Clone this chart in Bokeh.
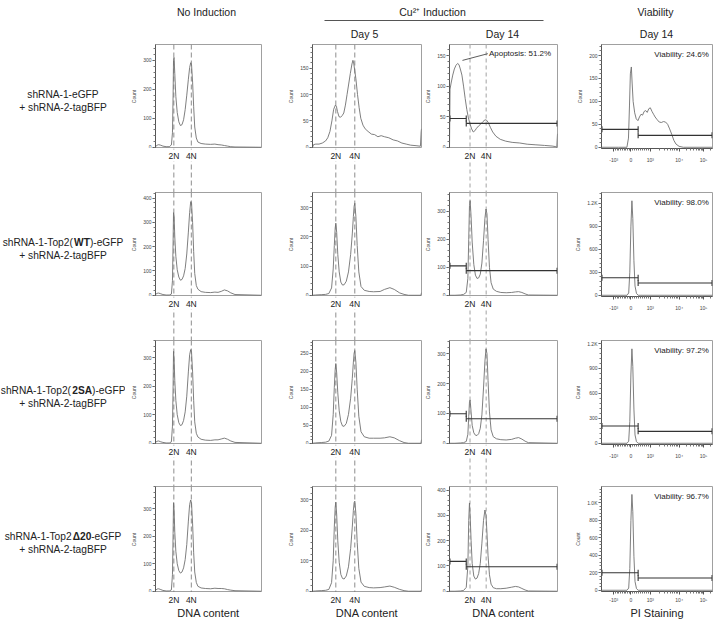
import numpy as np
from bokeh.plotting import figure
from bokeh.layouts import row, column
from bokeh.models import Range1d, Span, SingleIntervalTicker, FixedTicker
from bokeh.embed import file_html
from bokeh.resources import INLINE
from bokeh.core.properties import value

FONT = "Liberation Sans"

# ---------------- data ----------------
HEADER_GROUPS = ["No Induction", "Cu²⁺ Induction", "Viability"]
HEADER_DAYS = ["Day 5", "Day 14", "Day 14"]
ROW_PRE = ["shRNA-1-eGFP", "shRNA-1-Top2(", "shRNA-1-Top2(", "shRNA-1-Top2"]
ROW_BOLD = ["", "WT", "2SA", "Δ20"]
ROW_POST = ["", ")-eGFP", ")-eGFP", "-eGFP"]
ROW_LINE2 = "+ shRNA-2-tagBFP"

PLOIDY_LABELS = ["2N", "4N"]
NOIND_PLOIDY = [17.3, 33.8]
DAY5_PLOIDY = [21.4, 38.8]
DAY14_PLOIDY = [19.0, 34.0]

# No induction (DNA content, channel 0-100)
NOIND_X = [0, 1.5, 3, 5, 7, 10, 13, 15, 16, 16.6, 17.0, 17.5, 18.2, 19.2, 20.5, 22, 23.5, 25, 26.5, 28,
           29.5, 31, 32.2, 33.2, 34.0, 35.0, 36.0, 37.0, 38.5, 40, 43, 47, 52, 56, 59, 62, 65, 68, 71, 75, 100]
NOIND_R1_Y = [2, 7, 9, 7, 4, 2, 2, 8, 50, 180, 300, 310, 255, 175, 120, 88, 75, 78, 95, 130,
              180, 235, 275, 292, 285, 225, 140, 70, 32, 18, 13, 11, 10, 11, 9, 8, 6, 4, 2, 1, 0]
NOIND_R2_Y = [3, 8, 9, 6, 3, 1, 1, 5, 60, 220, 340, 330, 240, 160, 105, 75, 62, 65, 80, 110,
              170, 260, 340, 385, 380, 300, 180, 90, 40, 25, 15, 12, 11, 13, 12, 16, 22, 18, 10, 3, 0]
NOIND_R3_Y = [3, 7, 8, 5, 3, 1, 1, 5, 60, 200, 322, 300, 220, 150, 100, 72, 62, 65, 80, 110,
              165, 250, 310, 328, 318, 250, 150, 75, 35, 22, 14, 11, 10, 12, 12, 15, 18, 14, 8, 3, 0]
NOIND_R4_Y = [3, 8, 9, 6, 3, 1, 1, 5, 60, 210, 322, 300, 215, 145, 100, 75, 66, 70, 85, 115,
              170, 255, 315, 332, 320, 245, 140, 70, 32, 18, 12, 10, 9, 11, 10, 10, 9, 6, 4, 2, 0]
NOIND_YMAX = [355, 423, 360, 381]
NOIND_YSTEP = [100, 100, 100, 100]

# Cu2+ Day 5
DAY5_R1_X = [0, 1, 3, 6, 9, 12, 14, 16, 17.8, 19.4, 21.0, 21.9, 22.9, 24.3, 25.8, 27.2, 28.7, 30.2, 31.7, 33.2,
             34.7, 36.2, 37.1, 37.8, 38.8, 39.8, 41.3, 42.8, 44.3, 46.3, 48.3, 51, 54, 57, 60, 63, 66, 70, 74, 78,
             82, 86, 90, 95, 99, 99.7, 100]
DAY5_R1_Y = [0, 5, 6, 6, 8, 12, 18, 30, 50, 72, 80, 78, 68, 58, 57, 60, 65, 80, 100, 120,
             140, 158, 165, 160, 145, 130, 100, 75, 55, 42, 35, 30, 25, 24, 20, 22, 20, 18, 14, 12,
             8, 6, 4, 3, 2, 30, 35]
DAY5_X = [0, 3, 8, 12, 15, 17.5, 19, 20, 20.8, 21.4, 22.2, 23.2, 24.5, 26, 27.5, 29, 31, 33, 35, 36.5,
          37.5, 38.2, 38.8, 39.8, 41, 42.5, 44.5, 47.5, 52, 56, 62, 66, 71, 75, 80, 84, 88, 94, 99.5, 100]
DAY5_R2_Y = [0, 1, 2, 3, 6, 25, 90, 170, 230, 247, 215, 140, 80, 45, 35, 36, 48, 80, 140, 210,
             270, 305, 315, 270, 170, 80, 30, 17, 13, 12, 13, 20, 26, 20, 8, 3, 0, 0, 0, 9]
DAY5_R3_Y = [0, 1, 2, 3, 6, 22, 80, 155, 205, 221, 195, 140, 90, 60, 48, 47, 55, 80, 125, 180,
             225, 250, 257, 225, 150, 75, 32, 18, 14, 14, 14, 15, 18, 15, 7, 2, 0, 0, 0, 10]
DAY5_R4_Y = [0, 1, 2, 3, 6, 28, 100, 210, 275, 292, 250, 165, 95, 55, 42, 40, 50, 80, 140, 210,
             265, 290, 295, 255, 160, 75, 30, 16, 12, 11, 12, 14, 17, 13, 6, 2, 0, 0, 0, 4]
DAY5_YMAX = [195, 352, 285, 343]
DAY5_YSTEP = [50, 100, 50, 100]

# Cu2+ Day 14
DAY14_R1_X = [0, 0.5, 1.5, 3, 4.5, 6, 7.5, 8.8, 10, 11.5, 13, 14.5, 16, 17.5, 19, 20.5, 22, 23.5, 25, 27,
              29, 31, 33, 34.5, 36, 38, 40, 43, 47, 52, 58, 65, 72, 80, 88, 95, 98.5, 99.3, 100]
DAY14_R1_Y = [0, 95, 105, 118, 128, 134, 137, 135, 128, 118, 100, 80, 62, 48, 38, 30, 25, 27, 31, 35,
              38, 42, 45, 44, 40, 32, 25, 18, 13, 10, 8, 7, 5, 4, 3, 2, 1, 0, 22]
DAY14_X = [0, 5, 10, 13, 15.5, 17.0, 17.8, 18.5, 19.1, 20.0, 21.0, 22.5, 24, 25.5, 27, 28.5, 30, 31.5, 32.8, 33.8,
           34.7, 35.7, 37, 38.5, 40.5, 43.5, 47.5, 52.5, 57.5, 61, 64, 67, 70, 73, 100]
DAY14_R2_Y = [0, 0, 1, 3, 10, 60, 200, 320, 338, 280, 190, 110, 72, 60, 62, 75, 115, 195, 275, 308,
              290, 200, 100, 45, 22, 14, 10, 9, 10, 12, 13, 10, 5, 1, 0]
DAY14_R3_Y = [0, 0, 1, 2, 6, 30, 90, 138, 145, 105, 60, 35, 27, 26, 32, 50, 95, 185, 275, 316,
              300, 210, 105, 45, 22, 15, 12, 11, 13, 17, 19, 14, 7, 2, 0]
DAY14_R4_Y = [0, 0, 1, 3, 15, 100, 280, 349, 300, 200, 110, 60, 48, 52, 70, 110, 190, 280, 321, 300,
              230, 140, 65, 28, 14, 10, 10, 12, 16, 19, 17, 11, 5, 1, 0]
DAY14_YMAX = [168, 367, 344, 414]
DAY14_YSTEP = [50, 100, 100, 100]
DAY14_GATE_SPLIT = 15.5
DAY14_GATE_LEFT = [47, 105, 99, 118]
DAY14_GATE_RIGHT = [39, 88, 82, 97]
APOPTOSIS_TEXT = "Apoptosis: 51.2%"
APOPTOSIS_LEADER_X = [12.0, 35.5]
APOPTOSIS_LEADER_Y = [142, 153]

# Viability (PI staining, display units 0-100)
PI_R1_X = [0, 15.4, 22.9, 24.3, 25.2, 26.0, 26.9, 27.6, 28.5, 29.9, 31.3, 32.8, 34.2, 35.6, 37.0, 38.4, 39.8,
           41.2, 42.6, 44.0, 45.5, 46.9, 48.3, 50.2, 52.0, 53.9, 55.8, 57.7, 59.6, 61.4, 63.3, 65.2, 67.1,
           69.9, 73.7, 100]
PI_R1_Y = [0, 0, 0, 20, 90, 160, 175, 140, 100, 75, 62, 58, 66, 72, 70, 78, 80, 76, 84, 86,
           78, 72, 66, 60, 55, 54, 56, 55, 50, 40, 28, 15, 7, 2, 0, 0]
PI_X = [0, 23, 24.5, 25.5, 26.5, 27.4, 28.2, 29.2, 30.2, 31.5, 33, 100]
PI_R2_Y = [0, 0, 30, 300, 900, 1230, 1000, 450, 120, 25, 0, 0]
PI_R3_Y = [0, 0, 25, 260, 830, 1132, 920, 410, 100, 20, 0, 0]
PI_R4_Y = [0, 0, 25, 250, 800, 1098, 900, 390, 100, 20, 0, 0]
PI_YMAX = [224, 1338, 1232, 1189]
PI_YSTEP = [50, 300, 300, 200]
PI_GATE_SPLIT = 33.0
PI_GATE_LEFT = [39, 229, 207, 200]
PI_GATE_RIGHT = [26, 160, 143, 140]
VIABILITY = ["Viability: 24.6%", "Viability: 98.0%", "Viability: 97.2%", "Viability: 96.7%"]
PI_TICK_VALUES = [-1000, 0, 1000, 10000, 100000]
PI_TICK_POS = [11.0, 26.5, 44.0, 70.0, 92.0]
PI_TICK_LABELS = ["-10³", "0", "10³", "10⁴", "10⁵"]

# ---------------- layout constants ----------------
HEADER_H = 44
PANEL_H = [104, 104, 104, 106]
GAP_H = [44, 44, 42, 28]
LABEL_W = 125
COLS = [(157, 30, 21), (140, 30, 1), (149, 27, 14), (142, 30, 1)]
TEXT = "#222222"
AXC = "#555555"

REG_W = {'s': .5, 'h': .556, 'R': .722, 'N': .722, 'A': .667, '-': .333, '1': .556, '2': .556,
         'T': .611, 'o': .556, 'p': .556, '(': .333, ')': .333, 'e': .556, 'G': .778, 'F': .611,
         'P': .667, '+': .584, ' ': .278, 't': .278, 'a': .556, 'g': .556, 'B': .667}
BOLD_W = {'W': .944, 'T': .611, '2': .556, 'S': .667, 'A': .722, 'Δ': .70, '0': .556}


def twidth(s, table, fs):
    return sum(table.get(c, .556) for c in s) * fs


def base_fig(w, h, xr, yr, lb=0, rb=0, tb=0, bb=0, xaxis=None, yaxis=None):
    p = figure(width=w, height=h, x_range=xr, y_range=yr, output_backend="svg",
               toolbar_location=None, x_axis_location=xaxis, y_axis_location=yaxis,
               min_border_left=lb, min_border_right=rb, min_border_top=tb, min_border_bottom=bb)
    p.grid.visible = False
    p.outline_line_color = None
    p.background_fill_color = "white"
    p.border_fill_color = "white"
    return p


def style_axis(ax, fs="5px"):
    ax.axis_label_text_font = FONT
    ax.axis_label_text_font_size = fs
    ax.axis_label_text_font_style = "normal"
    ax.axis_label_text_color = "#444444"
    ax.major_label_text_font = FONT
    ax.major_label_text_font_size = "5px"
    ax.major_label_text_color = "#444444"
    ax.major_label_standoff = 1
    ax.major_tick_out = 3
    ax.major_tick_in = 0
    ax.minor_tick_out = 2
    ax.minor_tick_in = 0
    ax.axis_line_color = AXC
    ax.major_tick_line_color = AXC
    ax.minor_tick_line_color = "#777777"


def panel(xr, ymax, step, w, lb, rb, h, bb=0, xaxis=None):
    p = base_fig(w, h, xr, Range1d(-0.012 * ymax, ymax), lb=lb, rb=rb, bb=bb, xaxis=xaxis, yaxis="left")
    p.outline_line_color = "#a0a0a0"
    ax = p.yaxis[0]
    style_axis(ax)
    ax.ticker = SingleIntervalTicker(interval=step, num_minor_ticks=5)
    ax.axis_label = "Count"
    ax.axis_label_standoff = 3
    return p


def add_lines(p, locs, light):
    for loc in locs:
        if light:
            p.add_layout(Span(location=loc, dimension="height", line_color="#bdbdbd",
                              line_width=1.4, line_dash="4 3", level="underlay"))
        else:
            p.add_layout(Span(location=loc, dimension="height", line_color="#808080",
                              line_width=0.9, line_dash="5 3", level="underlay"))


def gap(xr, w, lb, rb, h, locs, light, lines=True, xlabel=None):
    g = base_fig(w, h, xr, Range1d(h, 0), lb=lb, rb=rb)
    if lines:
        add_lines(g, locs, light)
    g.text(x=locs, y=[7, 7], text=PLOIDY_LABELS, text_align="center", text_baseline="middle",
           text_font=value(FONT), text_font_size="8.5px", text_color=TEXT,
           background_fill_color="white", padding=1)
    if xlabel:
        g.text(x=[50], y=[20.5], text=[xlabel], text_align="center", text_baseline="middle",
               text_font=value(FONT), text_font_size="11px", text_color=TEXT)
    return g


def gate(p, split, yl, yr_, xmin, xmax):
    p.segment(x0=[xmin, split], y0=[yl, yr_], x1=[split, xmax], y1=[yl, yr_], line_color="#333333", line_width=1.1)
    p.scatter(x=[xmin, split, split, xmax], y=[yl, yl, yr_, yr_], marker="dash", angle=np.pi / 2,
              size=6, line_color="#333333", line_width=1.1)


def dna_column(ci, ploidy, light, xs_list, ys_list, ymaxes, steps, extra=None):
    w, lb, rb = COLS[ci]
    xr = Range1d(0, 100)
    kids = []
    for r in range(4):
        p = panel(xr, ymaxes[r], steps[r], w, lb, rb, PANEL_H[r])
        add_lines(p, ploidy, light)
        p.line(xs_list[r], ys_list[r], line_color="#707070", line_width=0.9)
        if extra:
            extra(p, r)
        kids.append(p)
        if r < 3:
            kids.append(gap(xr, w, lb, rb, GAP_H[r], ploidy, light))
        else:
            kids.append(gap(xr, w, lb, rb, GAP_H[r], ploidy, light, lines=False, xlabel="DNA content"))
    return column(*kids)


def day14_extra(p, r):
    gate(p, DAY14_GATE_SPLIT, DAY14_GATE_LEFT[r], DAY14_GATE_RIGHT[r], 0.4, 99.6)
    if r == 0:
        p.line(APOPTOSIS_LEADER_X, APOPTOSIS_LEADER_Y, line_color="#333333", line_width=0.8)
        p.text(x=[APOPTOSIS_LEADER_X[1] + 1.0], y=[APOPTOSIS_LEADER_Y[1]], text=[APOPTOSIS_TEXT],
               text_align="left", text_baseline="middle", text_font=value(FONT),
               text_font_size="8px", text_color=TEXT)


# ---------------- header ----------------
header = base_fig(713, HEADER_H, Range1d(0, 713), Range1d(HEADER_H, 0))
header.text(x=[206, 432, 655], y=[11, 11, 11], text=HEADER_GROUPS, text_align="center",
            text_baseline="middle", text_font=value(FONT), text_font_size="10.5px", text_color=TEXT)
header.segment(x0=[324], y0=[20], x1=[543], y1=[20], line_color="#555555", line_width=1)
header.text(x=[364, 502, 656], y=[33, 33, 33], text=HEADER_DAYS, text_align="center",
            text_baseline="middle", text_font=value(FONT), text_font_size="10.5px", text_color=TEXT)

# ---------------- row labels ----------------
body_h = sum(PANEL_H) + sum(GAP_H)
top0 = HEADER_H
labels = base_fig(LABEL_W, body_h, Range1d(0, LABEL_W), Range1d(top0 + body_h, top0))
FS = 10.2
CX = 62.5
row_tops = np.cumsum([top0] + [PANEL_H[i] + GAP_H[i] for i in range(3)])
for r in range(4):
    y1 = row_tops[r] + 50
    y2 = y1 + 13
    w_pre = twidth(ROW_PRE[r], REG_W, FS)
    w_bold = twidth(ROW_BOLD[r], BOLD_W, FS)
    w_post = twidth(ROW_POST[r], REG_W, FS)
    x0 = max(CX - (w_pre + w_bold + w_post) / 2, 0.3)
    kw = dict(text_align="left", text_baseline="middle", text_font=value(FONT),
              text_font_size=f"{FS}px", text_color=TEXT)
    labels.text(x=[x0], y=[y1], text=[ROW_PRE[r]], **kw)
    if ROW_BOLD[r]:
        labels.text(x=[x0 + w_pre], y=[y1], text=[ROW_BOLD[r]], text_font_style="bold", **kw)
        labels.text(x=[x0 + w_pre + w_bold], y=[y1], text=[ROW_POST[r]], **kw)
    labels.text(x=[CX], y=[y2], text=[ROW_LINE2], text_align="center", text_baseline="middle",
                text_font=value(FONT), text_font_size=f"{FS}px", text_color=TEXT)

# ---------------- DNA columns ----------------
col1 = dna_column(0, NOIND_PLOIDY, False, [NOIND_X] * 4,
                  [NOIND_R1_Y, NOIND_R2_Y, NOIND_R3_Y, NOIND_R4_Y], NOIND_YMAX, NOIND_YSTEP)
col2 = dna_column(1, DAY5_PLOIDY, False, [DAY5_R1_X, DAY5_X, DAY5_X, DAY5_X],
                  [DAY5_R1_Y, DAY5_R2_Y, DAY5_R3_Y, DAY5_R4_Y], DAY5_YMAX, DAY5_YSTEP)
col3 = dna_column(2, DAY14_PLOIDY, True, [DAY14_R1_X, DAY14_X, DAY14_X, DAY14_X],
                  [DAY14_R1_Y, DAY14_R2_Y, DAY14_R3_Y, DAY14_R4_Y], DAY14_YMAX, DAY14_YSTEP,
                  extra=day14_extra)

# ---------------- PI column ----------------
def pi_pos(v):
    if v <= 1000:
        return float(np.interp(v, PI_TICK_VALUES[:3], PI_TICK_POS[:3]))
    k = int(np.floor(np.log10(v)))
    i = PI_TICK_VALUES.index(10 ** k)
    p0 = PI_TICK_POS[i]
    p1 = PI_TICK_POS[i + 1] if i + 1 < len(PI_TICK_POS) else p0 + (PI_TICK_POS[i] - PI_TICK_POS[i - 1])
    return p0 + np.log10(v / 10 ** k) * (p1 - p0)


minor = [pi_pos(v) for v in range(-900, 1000, 100) if v != 0]
minor += [pi_pos(m * d) for d in (1000, 10000, 100000) for m in range(2, 10)]
minor = [float(m) for m in minor if m < 100]

w4, lb4, rb4 = COLS[3]
xr4 = Range1d(0, 100)
pi_kids = []
PI_Y = [PI_R1_Y, PI_R2_Y, PI_R3_Y, PI_R4_Y]
PI_XS = [PI_R1_X, PI_X, PI_X, PI_X]
PI_LABEL_GAP = 15
for r in range(4):
    bb = GAP_H[r] if r < 3 else GAP_H[r] - PI_LABEL_GAP
    p = panel(xr4, PI_YMAX[r], PI_YSTEP[r], w4, lb4, rb4, h=PANEL_H[r] + bb, bb=bb, xaxis="below")
    ay = p.yaxis[0]
    ay.major_label_overrides = {1200: "1.2K", 1000: "1.0K"}
    ax = p.xaxis[0]
    style_axis(ax)
    ax.ticker = FixedTicker(ticks=PI_TICK_POS, minor_ticks=minor)
    ax.major_label_overrides = {pos: lab for pos, lab in zip(PI_TICK_POS, PI_TICK_LABELS)}
    ax.major_label_standoff = 5 if r < 3 else 2
    p.line(PI_XS[r], PI_Y[r], line_color="#707070", line_width=0.9)
    gate(p, PI_GATE_SPLIT, PI_GATE_LEFT[r], PI_GATE_RIGHT[r], 0.4, 99.6)
    ytxt = PI_YMAX[r] * (1 - 10 / PANEL_H[r])
    p.text(x=[96.7], y=[ytxt], text=[VIABILITY[r]], text_align="right", text_baseline="middle",
           text_font=value(FONT), text_font_size="8px", text_color=TEXT)
    pi_kids.append(p)
pi_label = base_fig(w4, PI_LABEL_GAP, xr4, Range1d(PI_LABEL_GAP, 0), lb=lb4, rb=rb4)
pi_label.text(x=[50], y=[7.7], text=["PI Staining"], text_align="center", text_baseline="middle",
              text_font=value(FONT), text_font_size="11px", text_color=TEXT)
pi_kids.append(pi_label)
col4 = column(*pi_kids)

layout = column(header, row(labels, col1, col2, col3, col4))

with open("out.html", "w") as f:
    f.write(file_html(layout, INLINE, title="Flow cytometry panels"))
